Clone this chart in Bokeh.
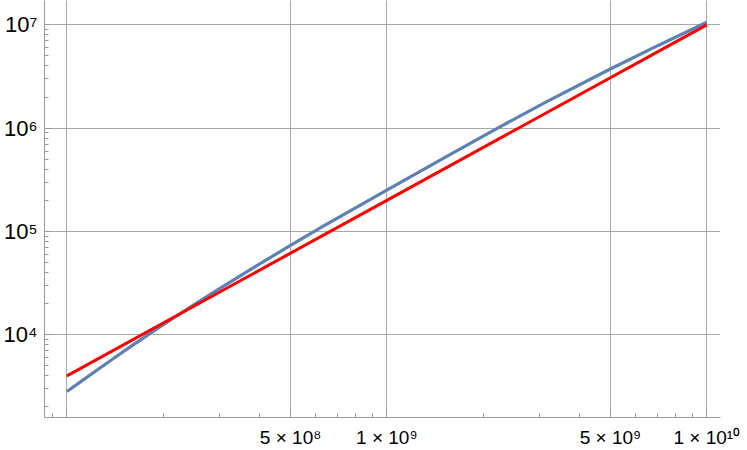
from bokeh.plotting import figure
from bokeh.models import Range1d, FixedTicker
from bokeh.embed import file_html
from bokeh.resources import INLINE

# Data (log-log)
blue_x = [1.0e8, 1.122e8, 1.259e8, 1.413e8, 1.585e8, 1.778e8, 1.995e8, 2.239e8, 2.512e8,
          3.162e8, 3.981e8, 5.012e8, 6.31e8, 1.0e9, 1.585e9, 2.213e9, 3.162e9, 5.012e9,
          7.079e9, 1.0e10]
blue_y = [2818, 3639, 4688, 6026, 7709, 9817, 12470, 15700, 19770,
          30970, 47970, 73620, 111700, 251200, 561000, 996600, 1.803e6, 3.758e6,
          6.353e6, 1.059e7]

red_x = [1.0e8, 1.0e9, 1.0e10]
red_y = [4.0e3, 2.0e5, 1.0e7]

x_ticks = [1e8, 5e8, 1e9, 5e9, 1e10]
x_labels = ["", "5 × 10⁸", "1 × 10⁹", "5 × 10⁹", "1 × 10¹⁰"]
y_ticks = [1e4, 1e5, 1e6, 1e7]
y_labels = ["10⁴", "10⁵", "10⁶", "10⁷"]

x_minor = [k * 10.0 ** e for e in (7, 8, 9) for k in range(2, 10)]
y_minor = [k * 10.0 ** e for e in (3, 4, 5, 6, 7) for k in range(2, 10)]

p = figure(width=747, height=450, x_axis_type="log", y_axis_type="log",
           x_range=Range1d(8.51e7, 1.104e10), y_range=Range1d(1581, 1.72e7),
           output_backend="svg", toolbar_location=None,
           min_border_left=44, min_border_right=27, min_border_top=0, min_border_bottom=33)
p.outline_line_color = None
p.background_fill_color = "white"

p.xaxis.ticker = FixedTicker(ticks=x_ticks, minor_ticks=x_minor)
p.yaxis.ticker = FixedTicker(ticks=y_ticks, minor_ticks=y_minor)
p.xaxis.major_label_overrides = {t: l for t, l in zip(x_ticks, x_labels)}
p.yaxis.major_label_overrides = {t: l for t, l in zip(y_ticks, y_labels)}

gray = "#9a9a9a"
for ax in (p.xaxis, p.yaxis):
    ax.axis_line_color = gray
    ax.major_tick_line_color = gray
    ax.minor_tick_line_color = gray
    ax.major_tick_out = 0
    ax.major_tick_in = 7
    ax.minor_tick_out = 0
    ax.minor_tick_in = 4
    ax.major_label_text_font = "Liberation Sans"
    ax.major_label_text_color = "black"

p.xaxis.major_label_text_font_size = "19px"
p.xaxis.major_label_standoff = 9
p.yaxis.major_label_text_font_size = "22px"
p.yaxis.major_label_standoff = 7

p.xgrid.grid_line_color = "#a8a8a8"
p.ygrid.grid_line_color = "#a8a8a8"
p.xgrid.grid_line_width = 1
p.ygrid.grid_line_width = 1

p.line(blue_x, blue_y, line_color="#5E81B5", line_width=3.2)
p.line(red_x, red_y, line_color="#FF0000", line_width=3)

open("out.html", "w").write(file_html(p, INLINE))
